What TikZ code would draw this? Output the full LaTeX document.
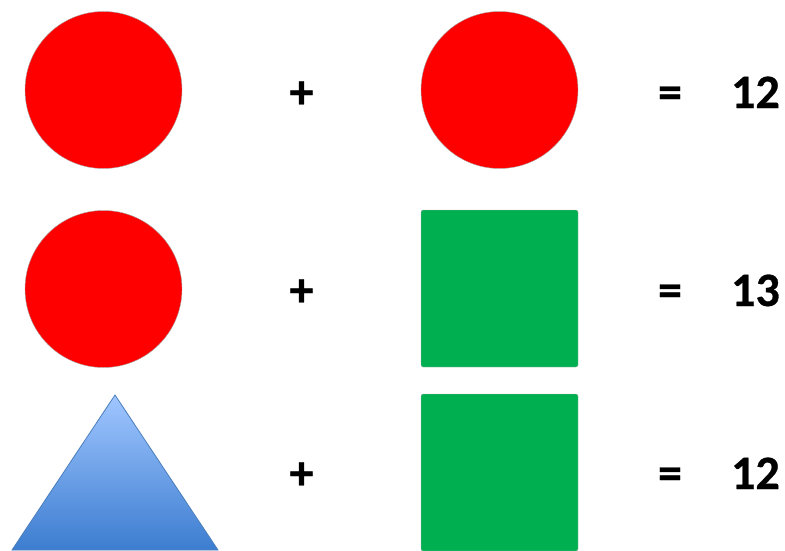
\documentclass[tikz,border=0pt]{standalone}
\usepackage{fontspec}
\setmainfont{Carlito}[BoldFeatures={FakeBold=0.6}]
\usepackage{xcolor}
\definecolor{ballred}{HTML}{FF0000}
\definecolor{boxgreen}{HTML}{00B050}
\definecolor{triedge}{HTML}{4A7EBB}
\definecolor{tritop}{HTML}{A0C6FF}
\definecolor{tribot}{HTML}{3C7DD0}

\begin{document}
\begin{tikzpicture}[
  x=1pt, y=-1pt,
  font=\fontsize{48}{52}\selectfont\bfseries,
  ball/.style={circle, fill=ballred, draw=black!35, line width=0.4pt,
    minimum size=157pt, inner sep=0pt},
  block/.style={rectangle, fill=boxgreen, draw=black!30, line width=0.3pt,
    rounded corners=2pt, minimum size=157pt, inner sep=0pt},
  wedge/.style={draw=triedge, line width=0.8pt, top color=tritop,
    bottom color=tribot},
  sign/.style={inner sep=0pt, anchor=base},
  result/.style={inner sep=0pt, anchor=base east}
]
\useasboundingbox (0,0) rectangle (785,551);

% row 1
\node[ball] (ballA) at (103.5,90) {};
\node[sign] (plusA) at (301.5,108) {+};
\node[ball] (ballB) at (499.5,90) {};
\node[sign] (eqA) at (670,108) {=};
\node[result] (sumA) at (780,108) {12};

% row 2
\node[ball] (ballC) at (103.5,289) {};
\node[sign] (plusB) at (301.5,306) {+};
\node[block] (blockA) at (499.5,288.5) {};
\node[sign] (eqB) at (670,306) {=};
\node[result] (sumB) at (780,306) {13};

% row 3
\shade[wedge] (12,550) -- (115,395) -- (218,550) -- cycle;
\node[sign] (plusC) at (301.5,489) {+};
\node[block] (blockB) at (499.5,472.5) {};
\node[sign] (eqC) at (670,489) {=};
\node[result] (sumC) at (780,489) {12};
\end{tikzpicture}
\end{document}
